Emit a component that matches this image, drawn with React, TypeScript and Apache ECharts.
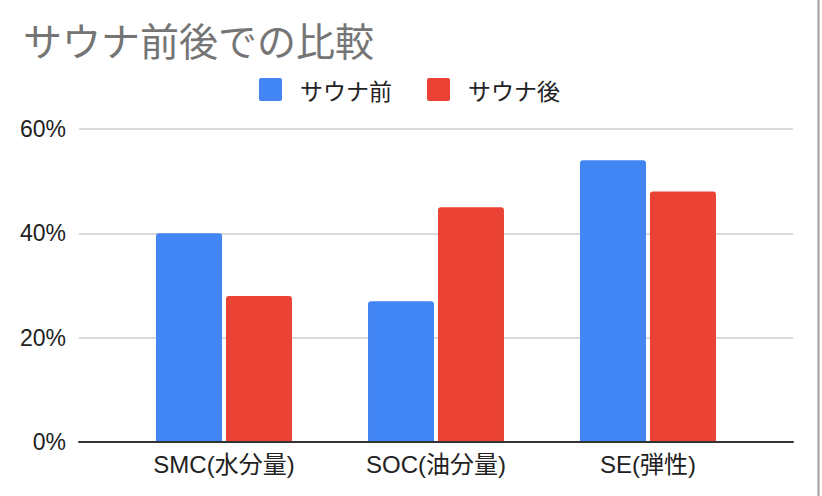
import React, { useEffect, useRef } from "react";
import * as echarts from "echarts";

const titleText = "サウナ前後での比較";
const categories = ["SMC(水分量)", "SOC(油分量)", "SE(弾性)"];
const seriesNames = ["サウナ前", "サウナ後"];
const beforeVals = [40, 27, 54];
const afterVals = [28, 45, 48];
const yTicks = [0, 20, 40, 60];

const FONT = "'Liberation Sans', Arial, 'Noto Sans CJK JP', sans-serif";
const ICON = "path://M2,0 L21,0 Q23,0 23,2 L23,21 Q23,23 21,23 L2,23 Q0,23 0,21 L0,2 Q0,0 2,0 Z";

export default function App() {
  const ref = useRef<HTMLDivElement>(null);
  useEffect(() => {
    if (!ref.current) return;
    const chart = echarts.init(ref.current, undefined, { renderer: "svg" });
    chart.setOption({
      animation: false,
      backgroundColor: "#ffffff",
      title: {
        text: titleText,
        left: 18,
        top: 14,
        textStyle: {
          fontFamily: "'Noto Sans CJK JP', sans-serif",
          fontSize: 39,
          fontWeight: "normal",
          color: "#757575",
        },
      },
      legend: {
        left: 254,
        top: 73,
        itemWidth: 23,
        itemHeight: 23,
        itemGap: 35,
        icon: ICON,
        textStyle: {
          fontFamily: "'Noto Sans CJK JP', sans-serif",
          fontSize: 23,
          color: "#222222",
          padding: [0, 0, 0, 13],
        },
        data: seriesNames,
      },
      grid: [
        { left: 79, right: 29, top: 129, bottom: 54 },
        { left: 118, right: 68, top: 129, bottom: 54 },
      ],
      xAxis: [
        {
          type: "category",
          gridIndex: 0,
          data: categories,
          axisLine: { show: true, lineStyle: { color: "#333333", width: 2 } },
          axisTick: { show: false },
          axisLabel: { show: false },
          splitLine: { show: false },
          z: 5,
        },
        {
          type: "category",
          gridIndex: 1,
          data: categories,
          axisLine: { show: false },
          axisTick: { show: false },
          axisLabel: {
            fontFamily: FONT,
            fontSize: 24,
            color: "#222222",
            margin: 10,
          },
        },
      ],
      yAxis: [
        {
          type: "value",
          gridIndex: 0,
          min: yTicks[0],
          max: yTicks[yTicks.length - 1],
          interval: 20,
          axisLine: { show: false },
          axisTick: { show: false },
          axisLabel: {
            formatter: "{value}%",
            fontFamily: FONT,
            fontSize: 23,
            color: "#222222",
            margin: 13,
          },
          splitLine: { lineStyle: { color: "#cccccc", width: 1.5 } },
        },
        {
          type: "value",
          gridIndex: 1,
          min: yTicks[0],
          max: yTicks[yTicks.length - 1],
          interval: 20,
          axisLine: { show: false },
          axisTick: { show: false },
          axisLabel: { show: false },
          splitLine: { show: false },
        },
      ],
      series: [
        {
          name: seriesNames[0],
          type: "bar",
          xAxisIndex: 1,
          yAxisIndex: 1,
          data: beforeVals,
          barWidth: 66,
          barGap: "6%",
          itemStyle: { color: "#4285f4", borderRadius: [3, 3, 0, 0] },
        },
        {
          name: seriesNames[1],
          type: "bar",
          xAxisIndex: 1,
          yAxisIndex: 1,
          data: afterVals,
          barWidth: 66,
          barGap: "6%",
          itemStyle: { color: "#ea4335", borderRadius: [3, 3, 0, 0] },
        },
      ],
      graphic: [
        {
          type: "line",
          shape: { x1: 818.5, y1: 0, x2: 818.5, y2: 496 },
          style: { stroke: "#9e9e9e", lineWidth: 2 },
        },
      ],
    });
    return () => chart.dispose();
  }, []);
  return <div ref={ref} style={{ width: 822, height: 496, position: "absolute", left: 0, top: 0 }} />;
}
